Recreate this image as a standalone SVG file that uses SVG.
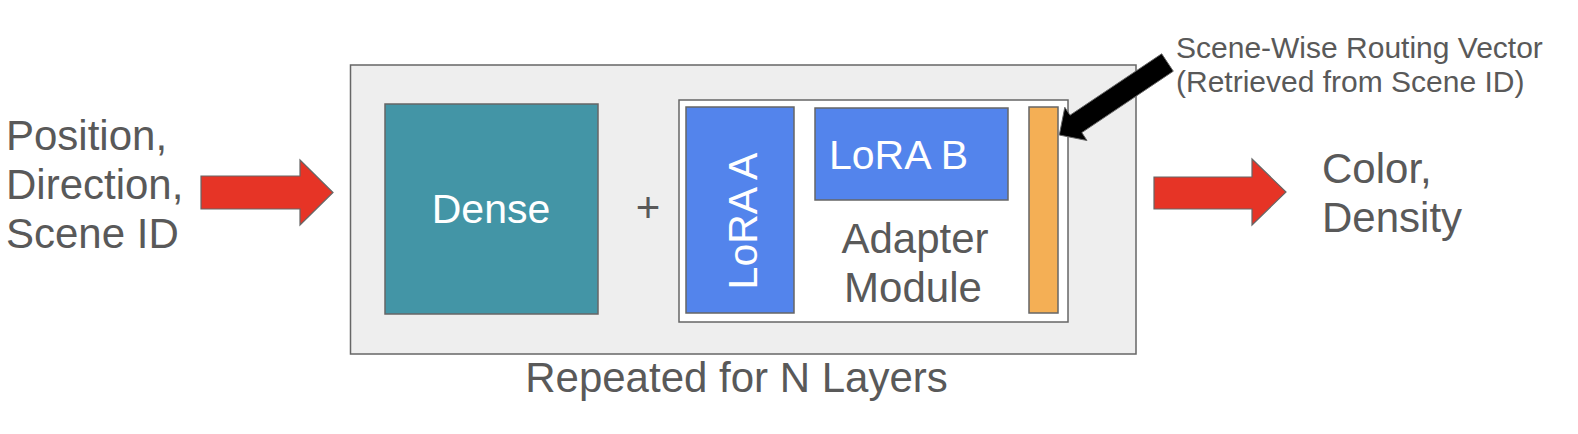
<svg xmlns="http://www.w3.org/2000/svg" width="1578" height="434" viewBox="0 0 1578 434">
<style>
.t{font-family:"Liberation Sans",Arial,sans-serif;font-size:42px;fill:#595959}
.w{font-family:"Liberation Sans",Arial,sans-serif;font-size:41px;fill:#ffffff}
.s{font-family:"Liberation Sans",Arial,sans-serif;font-size:30px;fill:#595959}
.box{stroke:#666666;stroke-width:1.5}
.red{fill:#e63426;stroke:#666666;stroke-width:1.2}
</style>
<rect width="1578" height="434" fill="#ffffff"/>
<g id="inputs">
<text class="t" x="6" y="150">Position,</text>
<text class="t" x="6" y="199">Direction,</text>
<text class="t" x="6" y="248">Scene ID</text>
</g>
<g id="layer">
<rect class="box" x="350.5" y="65" width="785.5" height="289" fill="#eeeeee"/>
<text class="t" x="736.5" y="392" text-anchor="middle">Repeated for N Layers</text>
</g>
<g id="dense">
<rect class="box" x="385" y="104" width="213" height="210" fill="#4395a6"/>
<text class="w" x="491" y="223" text-anchor="middle">Dense</text>
</g>
<g id="plus">
<text class="t" x="648" y="222" text-anchor="middle">+</text>
</g>
<g id="adapter">
<rect class="box" x="679" y="100" width="389" height="222" fill="#ffffff"/>
<text class="t" x="915" y="253" text-anchor="middle">Adapter</text>
<text class="t" x="913" y="302" text-anchor="middle">Module</text>
</g>
<g id="loraA">
<rect class="box" x="686" y="107" width="108" height="206" fill="#5384ec"/>
<text class="w" transform="translate(757,221) rotate(-90)" text-anchor="middle">LoRA A</text>
</g>
<g id="loraB">
<rect class="box" x="815" y="108" width="193" height="92" fill="#5384ec"/>
<text class="w" x="829" y="169">LoRA B</text>
</g>
<g id="routing">
<rect class="box" x="1029" y="107" width="29" height="206" fill="#f4af55"/>
</g>
<g id="routing-label">
<text class="s" x="1176" y="58">Scene-Wise Routing Vector</text>
<text class="s" x="1176" y="91.5">(Retrieved from Scene ID)</text>
</g>
<g id="outputs">
<text class="t" x="1322" y="183">Color,</text>
<text class="t" x="1322" y="232">Density</text>
</g>
<g id="connectors">
<polygon class="red" points="201,176 300,176 300,160 333,192.5 300,225 300,209 201,209"/>
<polygon class="red" points="1154,177 1252,177 1252,159 1286,192 1252,225 1252,209 1154,209"/>
<polygon fill="#000000" stroke="#666666" stroke-width="1" points="1161.7,53.8 1070,115.2 1064.8,107.3 1059.3,135 1087,140.5 1081.8,132.6 1173.3,71.2"/>
</g>
</svg>
